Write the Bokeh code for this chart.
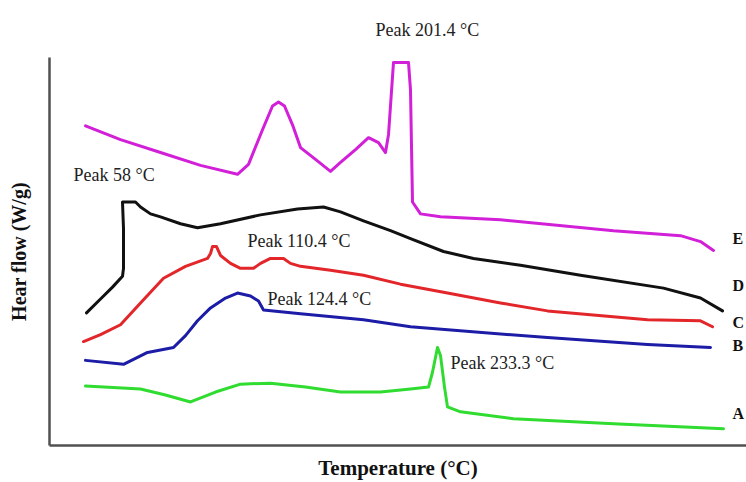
from bokeh.plotting import figure
from bokeh.models import Range1d, Label, FixedTicker
from bokeh.core.properties import value
from bokeh.embed import file_html
from bokeh.resources import INLINE

# x: temperature position (arbitrary units), y: heat flow (arbitrary units)
E_x = [85, 120, 160, 200, 237, 248, 262, 272, 278, 284, 292, 300, 315, 330, 340, 355, 368, 378, 385, 388, 393, 397, 408, 410, 412, 420, 440, 500, 613, 680, 700, 713]
E_y = [323, 309, 296, 283, 274, 284, 319, 343, 347, 343, 324, 301, 289, 277, 286, 299, 311, 306, 296, 314, 387, 387, 387, 359, 246, 234, 231, 228, 217, 212, 206, 197]

D_x = [86, 100, 112, 122, 123, 123, 122, 135, 140, 150, 160, 180, 197, 220, 260, 297, 323, 340, 363, 390, 410, 443, 473, 520, 580, 663, 700, 722]
D_y = [134, 148, 160, 171, 179, 219, 246, 246, 241, 234, 231, 224, 220, 224, 233, 239, 241, 236, 227, 217, 209, 196, 189, 182, 172, 159, 149, 136]

C_x = [83, 100, 120, 140, 163, 185, 207, 210, 212, 216, 220, 230, 240, 253, 260, 270, 283, 290, 300, 330, 363, 400, 447, 500, 547, 647, 700, 712]
C_y = [105, 112, 122, 144, 169, 181, 189, 194, 201, 201, 192, 184, 179, 179, 184, 189, 189, 184, 181, 177, 172, 163, 154, 144, 136, 127, 126, 120]

B_x = [85, 123, 147, 173, 185, 197, 210, 225, 237, 250, 258, 263, 300, 363, 410, 547, 647, 710]
B_y = [86, 82, 94, 99, 111, 126, 139, 149, 154, 151, 146, 137, 133, 127, 120, 109, 102, 99]

A_x = [85, 140, 165, 190, 215, 240, 270, 305, 340, 380, 410, 428, 432, 437, 440, 444, 447, 460, 513, 613, 723]
A_y = [60, 57, 51, 44, 54, 62, 63, 59, 54, 54, 57, 59, 74, 99, 91, 59, 39, 34, 27, 22, 17]

series_names = ["E", "D", "C", "B", "A"]
series_label_y = [209, 162, 124, 101, 32]
colors = ["#d21fd8", "#111111", "#e2262a", "#1c1ca6", "#2fdc2f"]

top_peak_text = "Peak 201.4 °C"
peak_texts = ["Peak 58 °C", "Peak 110.4 °C", "Peak 124.4 °C", "Peak 233.3 °C"]
peak_x = [73, 247, 267, 450]
peak_y = [273, 207, 148, 83]

p = figure(width=746, height=482, output_backend="svg", toolbar_location=None,
           x_range=Range1d(49, 746), y_range=Range1d(0, 392),
           min_border_left=49, min_border_right=0, min_border_top=57, min_border_bottom=33)
p.outline_line_color = None
p.grid.visible = False
p.background_fill_color = "white"
p.border_fill_color = "white"

p.title.text = top_peak_text
p.title.align = "left"
p.title.vertical_align = "top"
p.title.offset = 326
p.title.standoff = 32
p.title.text_font = "Liberation Serif"
p.title.text_font_size = "18px"
p.title.text_font_style = "normal"
p.title.text_color = "#222222"

for ax in (p.xaxis[0], p.yaxis[0]):
    ax.ticker = FixedTicker(ticks=[])
    ax.major_tick_out = 0
    ax.major_tick_in = 0
    ax.minor_tick_out = 0
    ax.minor_tick_in = 0
    ax.major_label_text_font_size = "0px"
    ax.axis_line_color = "#505050"
    ax.axis_line_width = 2.5
    ax.axis_label_text_font = "Liberation Serif"
    ax.axis_label_text_font_style = "bold"
    ax.axis_label_text_color = "#111111"

p.xaxis.axis_label = "Temperature (°C)"
p.xaxis.axis_label_text_font_size = "21px"
p.xaxis.axis_label_standoff = 10
p.yaxis.axis_label = "Hear flow (W/g)"
p.yaxis.axis_label_text_font_size = "20px"
p.yaxis.axis_label_standoff = 20

xs = [E_x, D_x, C_x, B_x, A_x]
ys = [E_y, D_y, C_y, B_y, A_y]
for x, y, c in zip(xs, ys, colors):
    p.line(x, y, line_color=c, line_width=3, line_join="round", line_cap="round")

p.text(x=[732] * 5, y=series_label_y, text=series_names,
       text_font=value("Liberation Serif"), text_font_style="bold",
       text_font_size="16px", text_color="#111111",
       text_align="left", text_baseline="middle")

for t, x, y in zip(peak_texts, peak_x, peak_y):
    p.add_layout(Label(x=x, y=y, text=t, text_font="Liberation Serif",
                       text_font_size="18px", text_color="#222222",
                       text_align="left", text_baseline="middle"))

open("out.html", "w").write(file_html(p, INLINE))
